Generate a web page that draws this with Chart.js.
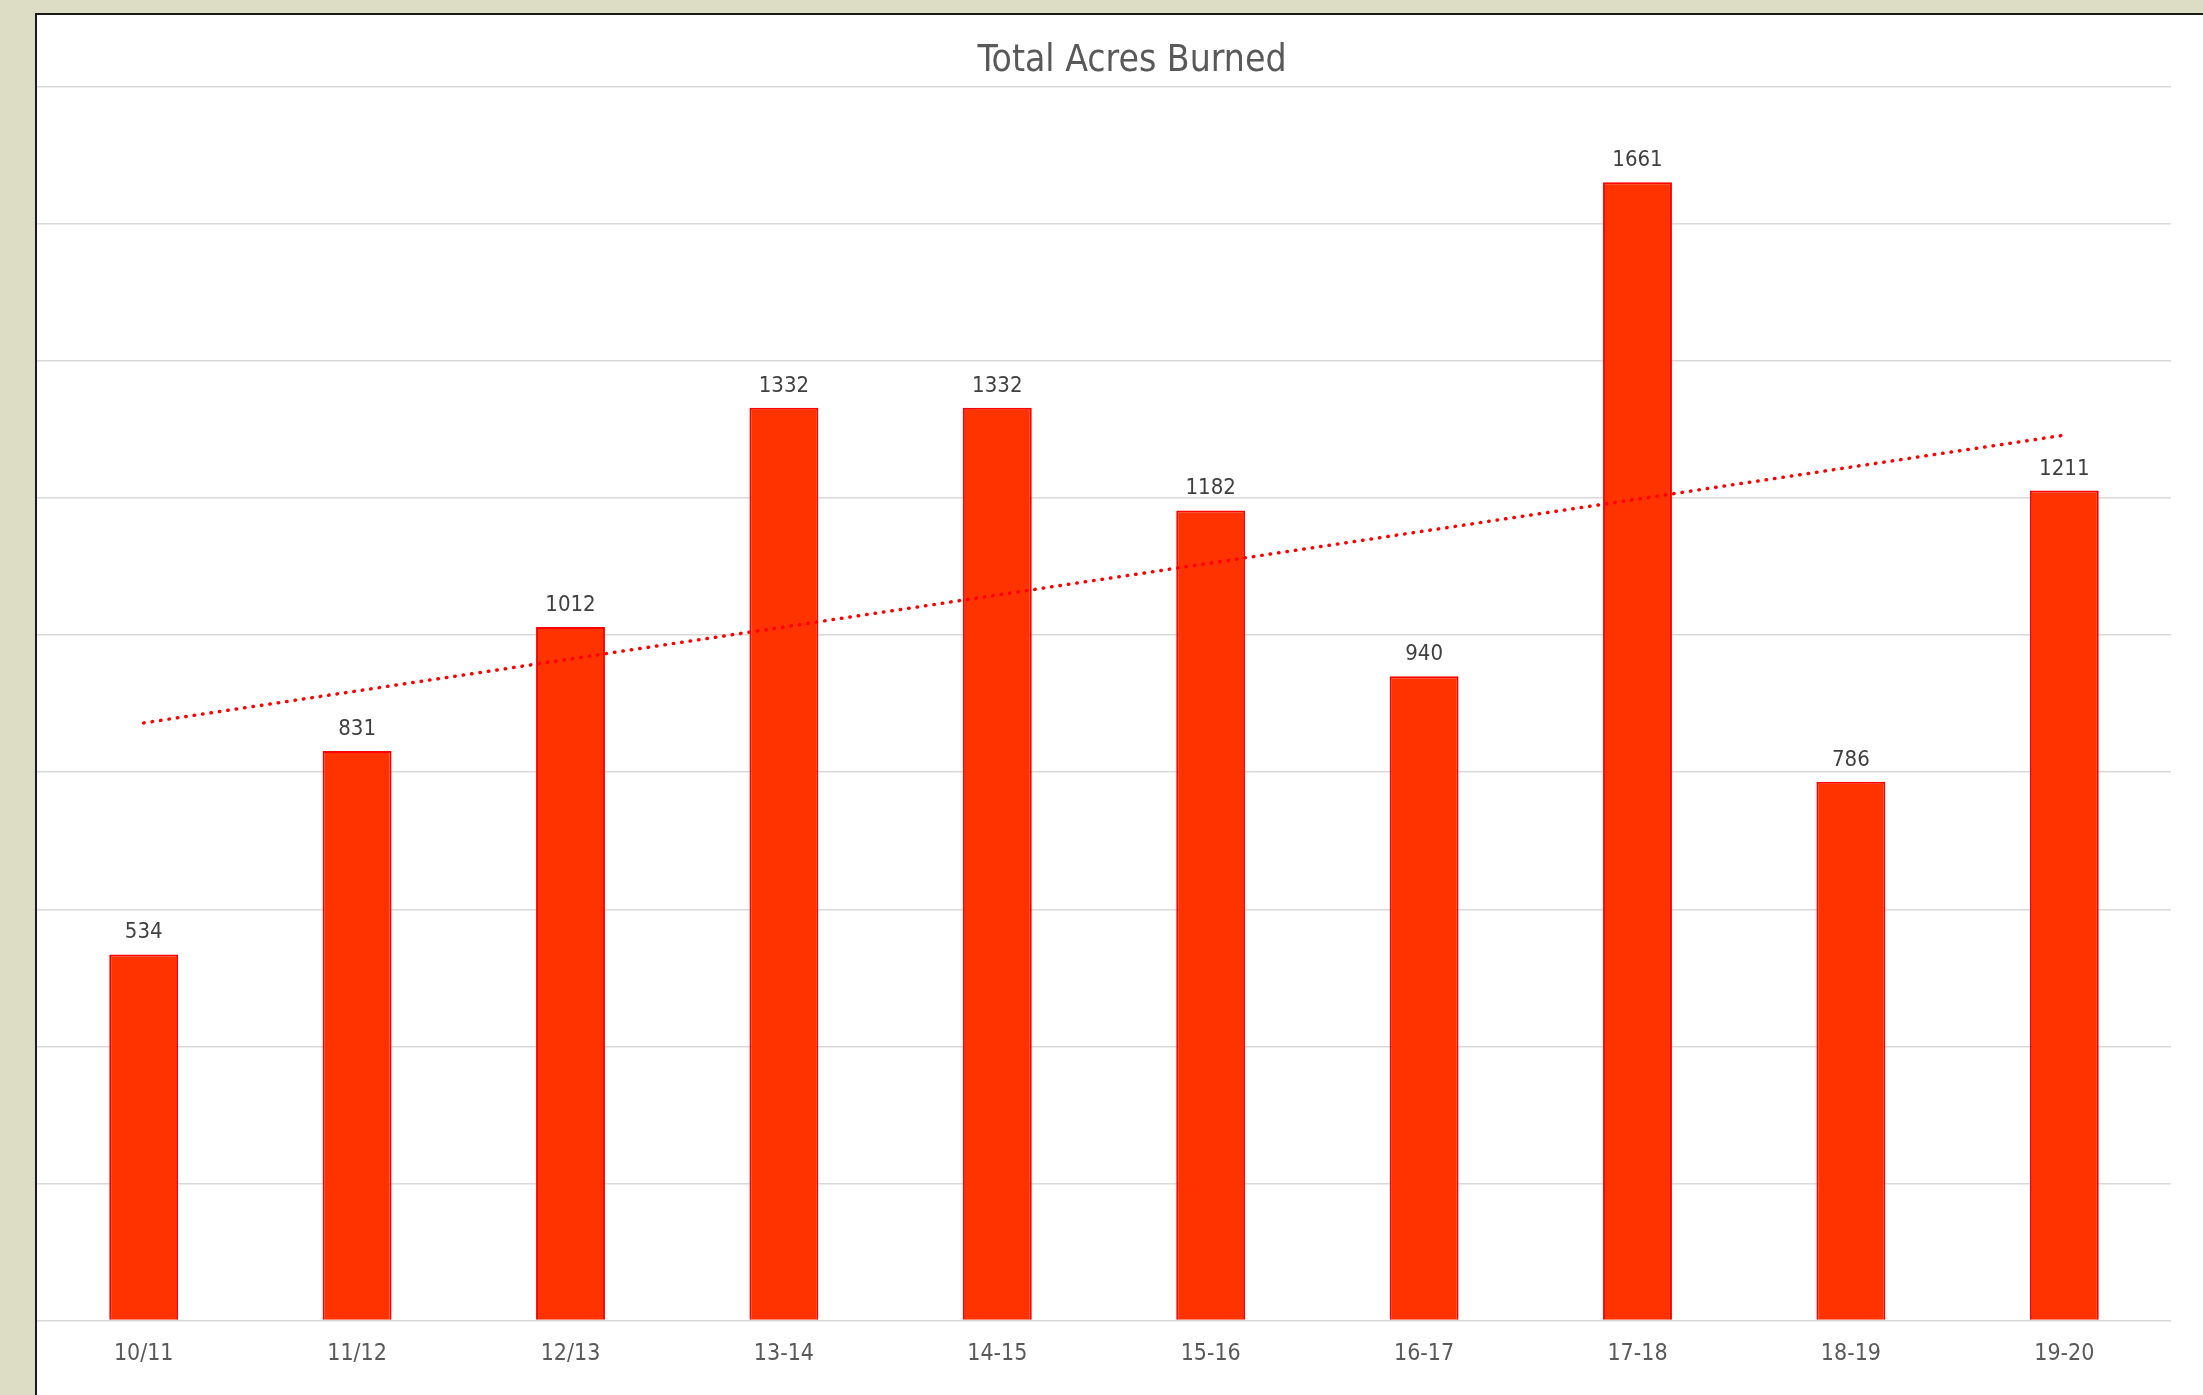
<!DOCTYPE html>
<html>
<head>
<meta charset="utf-8">
<script src="https://cdn.jsdelivr.net/npm/chart.js@4.4.1/dist/chart.umd.min.js"></script>
<style>
  html, body { margin: 0; padding: 0; width: 2203px; height: 1395px; overflow: hidden; background: #dddcc5; }
  #panel { position: absolute; left: 35px; top: 13px; width: 2400px; height: 1500px; background: #fff; border-left: 2px solid #1a1a1a; border-top: 2px solid #1a1a1a; }
  #wrap { position: absolute; left: 37px; top: 15px; width: 2190px; height: 1380px; }
</style>
</head>
<body>
<div id="panel"></div>
<div id="wrap"><canvas id="chart" width="2190" height="1380"></canvas></div>
<script>
const seasons = ['10/11', '11/12', '12/13', '13-14', '14-15', '15-16', '16-17', '17-18', '18-19', '19-20'];
const acres = [534, 831, 1012, 1332, 1332, 1182, 940, 1661, 786, 1211];
// trend line ends
const trendEnds = [872, null, null, null, null, null, null, null, null, 1292];
const yMax = 1800;
const yStep = 200;
const chartTitle = 'Total Acres Burned';

const fontFam = "'DejaVu Sans Condensed', 'DejaVu Sans', sans-serif";

// title centred on the whole chart box, not the padded plot
const titlePlugin = {
    id: 'titlePlugin',
    afterDraw(chart) {
        const ctx = chart.ctx;
        ctx.save();
        ctx.font = '37px ' + fontFam;
        ctx.fillStyle = '#595959';
        ctx.textAlign = 'center';
        ctx.textBaseline = 'middle';
        ctx.fillText(chartTitle, chart.width / 2, 46);
        ctx.restore();
    }
};

// value labels above bars
const barLabels = {
    id: 'barLabels',
    afterDatasetsDraw(chart) {
        const ctx = chart.ctx;
        const meta = chart.getDatasetMeta(0);
        ctx.save();
        ctx.font = '22px ' + fontFam;
        ctx.fillStyle = '#404040';
        ctx.textAlign = 'center';
        ctx.textBaseline = 'alphabetic';
        meta.data.forEach((bar, i) => {
            ctx.fillText(String(acres[i]), bar.x, bar.y - 16);
        });
        ctx.restore();
    }
};

new Chart(document.getElementById('chart'), {
    data: {
        labels: seasons,
        datasets: [
            {
                type: 'bar',
                data: acres,
                backgroundColor: '#ff3300',
                borderColor: '#ff0000',
                borderWidth: 2,
                barPercentage: 0.323,
                categoryPercentage: 1,
                order: 1
            },
            {
                type: 'line',
                data: trendEnds,
                spanGaps: true,
                borderColor: '#ff0000',
                borderWidth: 3.5,
                borderDash: [0.5, 8],
                borderCapStyle: 'round',
                pointRadius: 0,
                fill: false,
                order: 0
            }
        ]
    },
    options: {
        responsive: false,
        animation: false,
        layout: { padding: { left: 0, right: 56, top: 72, bottom: 7 } },
        plugins: {
            legend: { display: false },
            tooltip: { enabled: false },
            title: { display: false }
        },
        scales: {
            x: {
                grid: { display: false, drawTicks: false },
                border: { display: false },
                ticks: { color: '#595959', padding: 20, font: { family: fontFam, size: 23 }, maxRotation: 0, autoSkip: false }
            },
            y: {
                min: 0,
                max: yMax,
                ticks: { display: false, stepSize: yStep },
                grid: { color: '#d9d9d9', lineWidth: 1.5, drawTicks: false },
                border: { display: false },
                afterFit(scale) { scale.width = 0; }
            }
        }
    },
    plugins: [barLabels, titlePlugin]
});
</script>
</body>
</html>
